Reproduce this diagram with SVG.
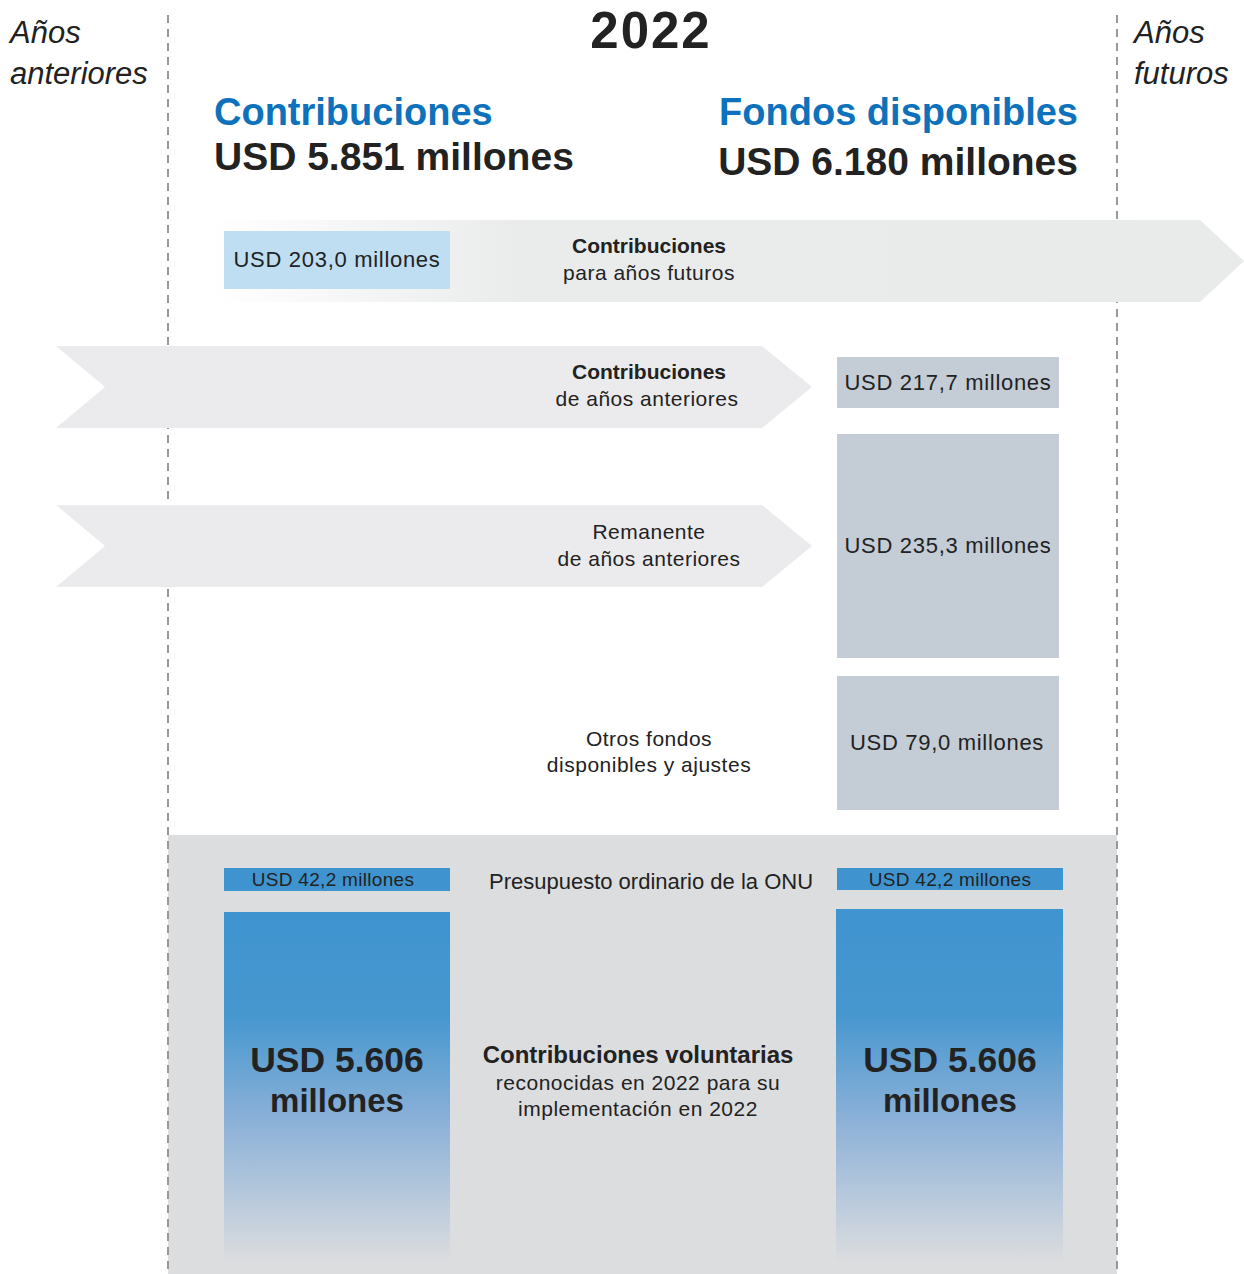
<svg xmlns="http://www.w3.org/2000/svg" width="1244" height="1274" viewBox="0 0 1244 1274">
<defs>
<style>
text{font-family:"Liberation Sans",Arial,sans-serif;fill:#222}
.it{font-style:italic;font-size:31px;fill:#222}
.h{font-weight:bold;font-size:39px}
.blue{fill:#0d72bb;font-size:38px}
.lbl{font-size:21px;letter-spacing:0.5px;text-anchor:middle}
.b{font-weight:bold;letter-spacing:0}
.val{font-size:22px;letter-spacing:0.7px;text-anchor:middle}
.sm{font-size:19px;letter-spacing:0.3px;text-anchor:middle}
.big{font-size:35.5px;font-weight:bold;text-anchor:middle}
.mil{font-size:33px}
.dash{stroke:#999;stroke-width:2;stroke-dasharray:8 6;fill:none}
.chev{fill:#ebebed}
.gbox{fill:#c4ccd6}
.sbox{fill:#3f94cf}
</style>
<linearGradient id="fadeL" x1="0" y1="0" x2="1" y2="0">
<stop offset="0" stop-color="#ffffff"/>
<stop offset="0.3" stop-color="#eaebeb"/>
<stop offset="1" stop-color="#e9eaea"/>
</linearGradient>
<linearGradient id="blueFade" x1="0" y1="0" x2="0" y2="1">
<stop offset="0" stop-color="#3f94cf"/>
<stop offset="0.3" stop-color="#4797cf"/>
<stop offset="0.6" stop-color="#8cb1d8"/>
<stop offset="1" stop-color="#dcdddf"/>
</linearGradient>
</defs>
<rect width="1244" height="1274" fill="#fff"/>
<g id="bottom-band"><rect x="168" y="835" width="949" height="439" fill="#dcdddf"/></g>
<g id="guides">
<line class="dash" x1="168" y1="15" x2="168" y2="1274"/>
<line class="dash" x1="1117" y1="15" x2="1117" y2="1274"/>
</g>
<g id="headers">
<text class="it" x="10" y="43">Años</text>
<text class="it" x="10" y="84">anteriores</text>
<text class="it" x="1134" y="43">Años</text>
<text class="it" x="1134" y="84">futuros</text>
<text x="651" y="48" font-size="51" font-weight="bold" letter-spacing="2" text-anchor="middle">2022</text>
<text class="h blue" x="214" y="125">Contribuciones</text>
<text class="h" x="214" y="170">USD 5.851 millones</text>
<text class="h blue" x="1078" y="125" text-anchor="end">Fondos disponibles</text>
<text class="h" x="1078" y="175" text-anchor="end">USD 6.180 millones</text>
</g>
<g id="future-arrow">
<polygon points="212,220 1200,220 1244,261 1200,302 212,302" fill="url(#fadeL)"/>
<rect x="224" y="231" width="226" height="58" fill="#bfdef2"/>
<text class="val" x="337" y="267">USD 203,0 millones</text>
<text class="lbl b" x="649" y="253">Contribuciones</text>
<text class="lbl" x="649" y="280">para años futuros</text>
</g>
<g id="prior-contrib">
<polygon class="chev" points="56,346 762,346 812,387 762,428 56,428 105,387"/>
<text class="lbl b" x="649" y="379">Contribuciones</text>
<text class="lbl" x="647" y="406">de años anteriores</text>
<rect class="gbox" x="837" y="357" width="222" height="51"/>
<text class="val" x="948" y="390">USD 217,7 millones</text>
</g>
<g id="remanente">
<polygon class="chev" points="56,505 762,505 812,546 762,587 56,587 105,546"/>
<text class="lbl" x="649" y="539">Remanente</text>
<text class="lbl" x="649" y="566">de años anteriores</text>
<rect class="gbox" x="837" y="434" width="222" height="224"/>
<text class="val" x="948" y="553">USD 235,3 millones</text>
</g>
<g id="otros">
<text class="lbl" x="649" y="746">Otros fondos</text>
<text class="lbl" x="649" y="772">disponibles y ajustes</text>
<rect class="gbox" x="837" y="676" width="222" height="134"/>
<text class="val" x="947" y="750">USD 79,0 millones</text>
</g>
<g id="presupuesto">
<rect class="sbox" x="224" y="868" width="226" height="23"/>
<text class="sm" x="333" y="886">USD 42,2 millones</text>
<text x="651" y="889" font-size="22" text-anchor="middle">Presupuesto ordinario de la ONU</text>
<rect class="sbox" x="837" y="868" width="226" height="22"/>
<text class="sm" x="950" y="886">USD 42,2 millones</text>
</g>
<g id="voluntarias">
<rect x="224" y="912" width="226" height="350" fill="url(#blueFade)"/>
<text class="big" x="337" y="1072">USD 5.606</text>
<text class="big mil" x="337" y="1112">millones</text>
<text x="638" y="1063" font-size="24" font-weight="bold" text-anchor="middle">Contribuciones voluntarias</text>
<text class="lbl" x="638" y="1090">reconocidas en 2022 para su</text>
<text class="lbl" x="638" y="1116">implementación en 2022</text>
<rect x="836" y="909" width="227" height="353" fill="url(#blueFade)"/>
<text class="big" x="950" y="1072">USD 5.606</text>
<text class="big mil" x="950" y="1112">millones</text>
</g>
</svg>
